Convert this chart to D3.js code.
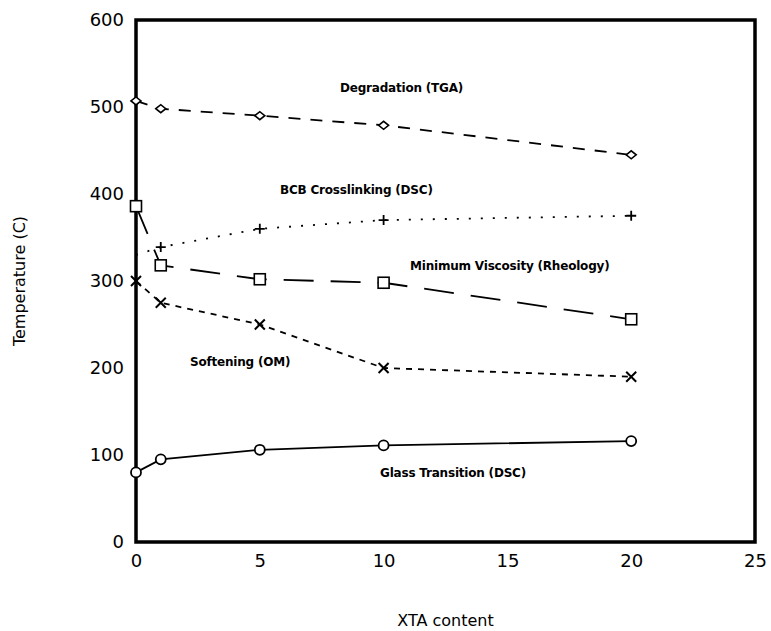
<!DOCTYPE html>
<html><head><meta charset="utf-8">
<script src="https://cdn.jsdelivr.net/npm/d3@7"></script>
<style>body{margin:0;background:#fff}svg{display:block}</style>
</head><body>
<script>
const xValues = [0, 1, 5, 10, 20];
const degradation = [507, 498, 490, 479, 445];
const crosslinking = [330, 339, 360, 370, 375];
const viscosity = [386, 318, 302, 298, 256];
const softening = [300, 275, 250, 200, 190];
const glassTransition = [80, 95, 106, 111, 116];
const xTicks = [0, 5, 10, 15, 20, 25];
const yTicks = [0, 100, 200, 300, 400, 500, 600];
const seriesNames = ["Degradation (TGA)", "BCB Crosslinking (DSC)", "Minimum Viscosity (Rheology)", "Softening (OM)", "Glass Transition (DSC)"];

const W = 771, H = 631;
const m = {left: 136, right: 16, top: 20, bottom: 89};
const svg = d3.select("body").append("svg").attr("width", W).attr("height", H);
const x = d3.scaleLinear().domain([0, 25]).range([m.left, W - m.right]);
const y = d3.scaleLinear().domain([0, 600]).range([H - m.bottom, m.top]);

const font = "'DejaVu Sans', Verdana, sans-serif";

const xAxis = svg.append("g").attr("transform", `translate(0,${y(0)})`)
  .call(d3.axisBottom(x).tickValues(xTicks).tickSize(0).tickPadding(12));
const yAxis = svg.append("g").attr("transform", `translate(${x(0)},0)`)
  .call(d3.axisLeft(y).tickValues(yTicks).tickSize(0).tickPadding(12));
[xAxis, yAxis].forEach(a => {
  a.select(".domain").remove();
  a.selectAll("text").attr("font-family", font).attr("font-size", 18).attr("fill", "#000");
});

svg.append("rect").attr("x", x(0)).attr("y", y(600))
  .attr("width", x(25) - x(0)).attr("height", y(0) - y(600))
  .attr("fill", "none").attr("stroke", "#000").attr("stroke-width", 3.5);

svg.append("text").attr("x", (x(0) + x(25)) / 2).attr("y", 626)
  .attr("text-anchor", "middle").attr("font-family", font).attr("font-size", 16)
  .text("XTA content");
svg.append("text").attr("transform", `translate(25,${(y(0) + y(600)) / 2}) rotate(-90)`)
  .attr("text-anchor", "middle").attr("font-family", font).attr("font-size", 16)
  .text("Temperature (C)");

const series = [
  {vals: degradation, dash: "12,10", marker: "diamond"},
  {vals: crosslinking, dash: "2,10", marker: "plus"},
  {vals: viscosity, dash: "30,17", marker: "square"},
  {vals: softening, dash: "6,6", marker: "x"},
  {vals: glassTransition, dash: null, marker: "circle"}
];
const line = d3.line().x(d => x(d[0])).y(d => y(d[1]));
series.forEach(s => {
  const pts = xValues.map((v, i) => [v, s.vals[i]]);
  svg.append("path").datum(pts).attr("d", line).attr("fill", "none")
    .attr("stroke", "#000").attr("stroke-width", 1.8)
    .attr("stroke-dasharray", s.dash);
  const g = svg.append("g");
  pts.forEach((p, i) => {
    const cx = x(p[0]), cy = y(p[1]);
    if (s.marker === "diamond") {
      g.append("path").attr("d", `M${cx-5},${cy}L${cx},${cy-4}L${cx+5},${cy}L${cx},${cy+4}Z`)
        .attr("fill", "#fff").attr("stroke", "#000").attr("stroke-width", 1.6);
    } else if (s.marker === "square") {
      g.append("rect").attr("x", cx - 5.5).attr("y", cy - 5.5).attr("width", 11).attr("height", 11)
        .attr("fill", "#fff").attr("stroke", "#000").attr("stroke-width", 1.6);
    } else if (s.marker === "circle") {
      g.append("circle").attr("cx", cx).attr("cy", cy).attr("r", 5)
        .attr("fill", "#fff").attr("stroke", "#000").attr("stroke-width", 1.8);
    } else if (s.marker === "plus" && i > 0) {
      g.append("path").attr("d", `M${cx-5},${cy}H${cx+5}M${cx},${cy-5}V${cy+5}`)
        .attr("stroke", "#000").attr("stroke-width", 1.8);
    } else if (s.marker === "x") {
      g.append("path").attr("d", `M${cx-5},${cy-5}L${cx+5},${cy+5}M${cx+5},${cy-5}L${cx-5},${cy+5}`)
        .attr("stroke", "#000").attr("stroke-width", 2);
    }
  });
});

const labelPos = [[340, 92], [280, 194], [410, 270], [190, 366], [380, 477]];
seriesNames.forEach((n, i) => {
  svg.append("text").attr("x", labelPos[i][0]).attr("y", labelPos[i][1])
    .attr("font-family", "'DejaVu Sans', Verdana, sans-serif").attr("font-weight", "bold")
    .attr("font-size", 12).attr("letter-spacing", -0.2).attr("fill", "#000").text(n);
});
</script>
</body></html>
